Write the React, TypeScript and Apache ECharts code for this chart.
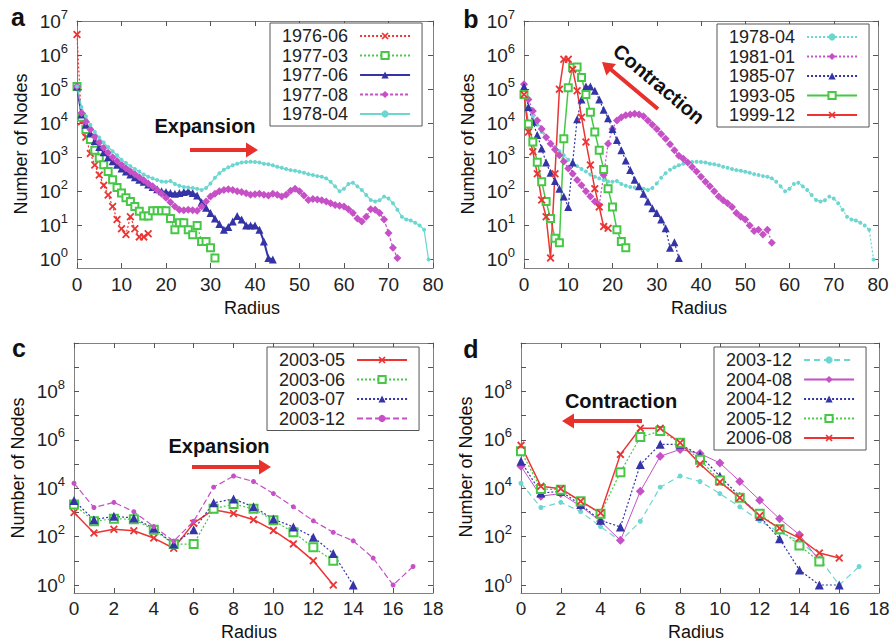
import React, { useEffect, useRef } from 'react';
import * as echarts from 'echarts';

const FONT = '"Liberation Sans", Arial, Helvetica, sans-serif';
const RED = '#ec3434';
const GREEN = '#46c846';
const BLUE = '#3434a6';
const MAG = '#c650c6';
const CYAN = '#6cd6d0';
const TXT = '#222';
const FRAME = '#808080';

// ---- panel a (index = radius) ----
const a1976_06 = [4e6, 1.1e4, 3900, 1300, 590, 300, 150, 78, 36, 15, 8, 5.4, 18, 8, 4.6, 4.6, 5.7];
const a1977_03 = [1.2e5, 1.5e4, 6500, 3300, 1600, 950, 600, 380, 220, 130, 90, 65, 50, 36, 26, 19, 19, 27, 27, 27, 27, 16, 7.5, 12, 12, 7.5, 5.3, 10, 3.4, 3.4, 2.2, 1.1];
const a1977_06 = [1.2e5, 1.8e4, 9000, 5000, 3000, 2000, 1400, 1000, 760, 600, 470, 380, 310, 260, 220, 190, 160, 135, 115, 100, 95, 90, 85, 90, 95, 100, 90, 75, 48, 33, 23, 16, 11, 7.5, 9, 13, 19, 15, 10, 10, 10, 7.5, 3.4, 1.1, 1];
const a1977_08 = [1.2e5, 2e4, 1.1e4, 6500, 4000, 2700, 1900, 1350, 1000, 780, 600, 480, 390, 320, 260, 210, 170, 140, 110, 85, 65, 48, 36, 29, 28, 29, 28, 27, 36, 50, 70, 85, 100, 110, 115, 110, 100, 95, 88, 80, 82, 85, 80, 75, 85, 80, 70, 80, 104, 120, 100, 75, 56, 60, 58, 55, 50, 45, 40, 38, 36, 30, 23, 16, 13, 18, 30, 29, 23, 15, 6, 2.2, 1.1];
const s1978_04 = [1.2e5, 3e4, 1.6e4, 9000, 5500, 3800, 2700, 2000, 1500, 1150, 850, 680, 550, 450, 380, 310, 270, 240, 215, 195, 190, 200, 165, 145, 135, 130, 125, 120, 110, 125, 170, 250, 340, 430, 510, 580, 650, 700, 730, 740, 730, 700, 650, 620, 580, 525, 490, 450, 420, 400, 375, 350, 320, 300, 280, 270, 240, 190, 140, 100, 120, 165, 180, 140, 110, 78, 56, 50, 55, 70, 62, 45, 29, 18, 15, 14, 12, 10, 7.5, 1];

// ---- panel b ----
const b1981_01 = [1.4e5, 5e4, 2.3e4, 1.2e4, 6800, 3900, 2500, 1700, 1150, 750, 470, 330, 215, 150, 100, 70, 50, 40, 300, 2500, 6800, 1.2e4, 1.5e4, 1.7e4, 1.8e4, 1.9e4, 1.8e4, 1.6e4, 1.2e4, 9000, 6800, 4800, 3500, 2400, 1600, 1100, 900, 700, 520, 380, 270, 190, 140, 100, 70, 55, 45, 35, 23, 18, 15, 10, 6.8, 7.5, 5.4, 7.5, 3.1];
const b1985_07 = [1.2e5, 3e4, 1.1e4, 4500, 1800, 700, 350, 200, 120, 70, 35, 700, 1.3e4, 5e4, 1.2e5, 1.2e5, 9e4, 5e4, 2.5e4, 1.4e4, 6800, 3200, 1600, 800, 420, 220, 140, 85, 50, 32, 23, 15, 8.3, 2.2, 3.2, 1.1];
const b1993_05 = [7e4, 9500, 2800, 720, 190, 50, 16, 4.2, 3.1, 3500, 1.1e5, 4.3e5, 4.5e5, 2.2e5, 7e4, 2.1e4, 5500, 1600, 440, 120, 35, 7.5, 3.4, 2.2];
const b1999_12 = [7e4, 5500, 1450, 330, 56, 18, 1.1, 330, 1e5, 7.5e5, 7.5e5, 3.8e5, 9e4, 1.5e4, 2800, 590, 120, 35, 9.3, 8.3];

// ---- panel c ----
const c2003_05 = [1000, 140, 200, 175, 87, 33, 360, 1300, 900, 500, 180, 50, 10, 1];
const c2003_06 = [2100, 430, 550, 520, 190, 49, 49, 1400, 2200, 1400, 470, 150, 36, 10];
const c2003_07 = [3100, 500, 690, 590, 220, 50, 190, 2500, 3600, 1700, 530, 250, 95, 20, 1];
const s2003_12 = [1.6e4, 1600, 2600, 1070, 260, 65, 430, 1.1e4, 3.2e4, 1.9e4, 6000, 1700, 450, 150, 67, 13, 1, 5.8];

// ---- panel d ----
const d2004_08 = [8e4, 4700, 6000, 1800, 430, 70, 7500, 2.1e5, 4e5, 2.7e5, 1.1e5, 1.9e4, 3200, 550, 120, 10];
const d2004_12 = [1.3e5, 6300, 7400, 2100, 470, 250, 9.5e4, 6.5e5, 6.5e5, 2.3e5, 3.1e4, 4600, 690, 81, 4.2, 1, 1];
const d2005_12 = [3.4e5, 9300, 8700, 2900, 890, 4.6e4, 1.3e6, 2.3e6, 7.6e5, 1.5e5, 2.1e4, 4000, 890, 200, 43, 9.3];
const d2006_08 = [5.9e5, 1.2e4, 9600, 2900, 940, 2.5e5, 3e6, 3e6, 7.6e5, 1e5, 1.8e4, 4000, 730, 220, 87, 21, 13];

// tick exponents
const expTicksAB = [0, 1, 2, 3, 4, 5, 6, 7];
const expTicksCD = [0, 1, 2, 3, 4, 5, 6, 7, 8, 9, 10];
const expLabelsCD = [0, 2, 4, 6, 8];

const CROSS = 'path://M0,1.6L1.6,0L5,3.4L8.4,0L10,1.6L6.6,5L10,8.4L8.4,10L5,6.6L1.6,10L0,8.4L3.4,5Z';

const panels = [
  { grid: { left: 77, top: 21, width: 356, height: 247 }, xMax: 80, xInt: 10, yMin: -0.25, yMax: 7, ticks: expTicksAB, labels: expTicksAB, xMargin: 7,
    legend: { left: 270, top: 23 } },
  { grid: { left: 524, top: 21, width: 354, height: 247 }, xMax: 80, xInt: 10, yMin: -0.25, yMax: 7, ticks: expTicksAB, labels: expTicksAB, xMargin: 7,
    legend: { left: 717, top: 24 } },
  { grid: { left: 74, top: 343, width: 359, height: 250 }, xMax: 18, xInt: 2, yMin: -0.33, yMax: 10, ticks: expTicksCD, labels: expLabelsCD, xMargin: 6,
    legend: { left: 267, top: 347 } },
  { grid: { left: 521, top: 343, width: 358, height: 250 }, xMax: 18, xInt: 2, yMin: -0.33, yMax: 10, ticks: expTicksCD, labels: expLabelsCD, xMargin: 6,
    legend: { left: 714, top: 347 } },
];

type Def = { p: number; name: string; vals: number[]; color: string; symbol: string; size: number; dash: any; width?: number };

const defs: Def[] = [
  { p: 0, name: '1976-06', vals: a1976_06, color: RED, symbol: CROSS, size: 8, dash: [2, 2] },
  { p: 0, name: '1977-03', vals: a1977_03, color: GREEN, symbol: 'emptyRect', size: 7, dash: [2, 2] },
  { p: 0, name: '1977-06', vals: a1977_06, color: BLUE, symbol: 'triangle', size: 8, dash: 'solid', width: 2 },
  { p: 0, name: '1977-08', vals: a1977_08, color: MAG, symbol: 'diamond', size: 8, dash: [3, 2] },
  { p: 0, name: '1978-04', vals: s1978_04, color: CYAN, symbol: 'circle', size: 4, dash: 'solid' },
  { p: 1, name: '1978-04', vals: s1978_04, color: CYAN, symbol: 'circle', size: 4, dash: [2, 2] },
  { p: 1, name: '1981-01', vals: b1981_01, color: MAG, symbol: 'diamond', size: 8, dash: [2, 2] },
  { p: 1, name: '1985-07', vals: b1985_07, color: BLUE, symbol: 'triangle', size: 8, dash: [2, 2] },
  { p: 1, name: '1993-05', vals: b1993_05, color: GREEN, symbol: 'emptyRect', size: 7, dash: 'solid', width: 1.5 },
  { p: 1, name: '1999-12', vals: b1999_12, color: RED, symbol: CROSS, size: 8, dash: 'solid', width: 1.5 },
  { p: 2, name: '2003-05', vals: c2003_05, color: RED, symbol: CROSS, size: 8, dash: 'solid', width: 1.5 },
  { p: 2, name: '2003-06', vals: c2003_06, color: GREEN, symbol: 'emptyRect', size: 8, dash: [2, 2] },
  { p: 2, name: '2003-07', vals: c2003_07, color: BLUE, symbol: 'triangle', size: 9, dash: [2, 2] },
  { p: 2, name: '2003-12', vals: s2003_12, color: MAG, symbol: 'circle', size: 5, dash: [6, 3] },
  { p: 3, name: '2003-12', vals: s2003_12, color: CYAN, symbol: 'circle', size: 5, dash: [6, 4] },
  { p: 3, name: '2004-08', vals: d2004_08, color: MAG, symbol: 'diamond', size: 9, dash: 'solid', width: 1 },
  { p: 3, name: '2004-12', vals: d2004_12, color: BLUE, symbol: 'triangle', size: 9, dash: [2, 2] },
  { p: 3, name: '2005-12', vals: d2005_12, color: GREEN, symbol: 'emptyRect', size: 8, dash: [2, 2] },
  { p: 3, name: '2006-08', vals: d2006_08, color: RED, symbol: CROSS, size: 8, dash: 'solid', width: 1.5 },
];

function arrow(x1: number, y1: number, x2: number, y2: number, w = 4, hl = 12, hw = 15) {
  const dx = x2 - x1, dy = y2 - y1;
  const L = Math.hypot(dx, dy);
  const ux = dx / L, uy = dy / L;
  const nx = -uy, ny = ux;
  const bx = x2 - ux * hl, by = y2 - uy * hl;
  const pts = [
    [x1 + nx * w / 2, y1 + ny * w / 2],
    [bx + nx * w / 2, by + ny * w / 2],
    [bx + nx * hw / 2, by + ny * hw / 2],
    [x2, y2],
    [bx - nx * hw / 2, by - ny * hw / 2],
    [bx - nx * w / 2, by - ny * w / 2],
    [x1 - nx * w / 2, y1 - ny * w / 2],
  ];
  return { type: 'polygon', silent: true, shape: { points: pts }, style: { fill: '#e8312a' } };
}

function txt(text: string, x: number, y: number, size: number, bold = false, rotation = 0) {
  return {
    type: 'text', x, y, rotation, silent: true,
    style: { text, fill: '#111', fontSize: size, fontFamily: FONT, fontWeight: bold ? 'bold' : 'normal', align: 'center', verticalAlign: 'middle' },
  };
}

function buildOption() {
  const grid = panels.map((p) => ({ ...p.grid, containLabel: false }));
  const xAxis: any[] = [];
  const yAxis: any[] = [];
  panels.forEach((p, gi) => {
    const baseX = {
      type: 'value', gridIndex: gi, min: 0, max: p.xMax, interval: p.xInt,
      axisLine: { show: true, onZero: false, lineStyle: { color: FRAME, width: 1 } },
      axisTick: { show: true, inside: true, length: 5, lineStyle: { color: '#555' } },
      splitLine: { show: false },
    };
    xAxis.push({ ...baseX, position: 'bottom',
      axisLabel: { show: true, fontSize: 19, fontFamily: FONT, color: TXT, margin: p.xMargin } });
    xAxis.push({ ...baseX, position: 'top', axisLabel: { show: false } });
    const baseY = {
      type: 'value', gridIndex: gi, min: p.yMin, max: p.yMax,
      axisLine: { show: true, onZero: false, lineStyle: { color: FRAME, width: 1 } },
      axisTick: { show: true, inside: true, length: 5, customValues: p.ticks, lineStyle: { color: '#555' } },
      splitLine: { show: false },
    };
    yAxis.push({ ...baseY, position: 'left',
      axisLabel: {
        show: true, customValues: p.labels, margin: 9,
        formatter: (v: number) => `{a|10}{b|${Math.round(v)}}`,
        rich: {
          a: { fontSize: 19, fontFamily: FONT, color: TXT },
          b: { fontSize: 13, fontFamily: FONT, color: TXT, padding: [0, 0, 14, 0] },
        },
      } });
    yAxis.push({ ...baseY, position: 'right', axisLabel: { show: false } });
  });

  const series = defs.map((d) => ({
    type: 'line',
    name: `${'abcd'[d.p]}:${d.name}`,
    xAxisIndex: d.p * 2,
    yAxisIndex: d.p * 2,
    data: d.vals.map((v, i) => [i, Math.log10(v)]),
    symbol: d.symbol,
    symbolSize: d.size,
    showSymbol: true,
    clip: false,
    lineStyle: { color: d.color, width: d.width ?? 1.2, type: d.dash },
    itemStyle: { color: d.color, borderColor: d.color, borderWidth: d.symbol === 'emptyRect' ? 1.4 : 0 },
    emphasis: { disabled: true },
    silent: true,
  }));

  const legend = panels.map((p, gi) => ({
    orient: 'vertical', left: p.legend.left, top: p.legend.top, align: 'right',
    data: defs.filter((d) => d.p === gi).map((d) => `${'abcd'[gi]}:${d.name}`),
    itemWidth: 50, itemHeight: 9, itemGap: 1.5,
    padding: [4, 11, 3, 12],
    borderColor: '#555', borderWidth: 1, backgroundColor: '#fff',
    selectedMode: false,
    formatter: (n: string) => n.slice(2),
    textStyle: { fontSize: 18, fontFamily: FONT, color: TXT, padding: [0, 7, 0, 0] },
  }));

  const graphic = [
    txt('a', 18, 17, 25, true),
    txt('b', 471, 19, 25, true),
    txt('c', 19, 348, 25, true),
    txt('d', 471, 349, 25, true),
    txt('Number of Nodes', 20.5, 144, 18, false, Math.PI / 2),
    txt('Number of Nodes', 468, 144, 18, false, Math.PI / 2),
    txt('Number of Nodes', 18, 468, 18, false, Math.PI / 2),
    txt('Number of Nodes', 466, 467, 18, false, Math.PI / 2),
    txt('Radius', 252, 308, 18),
    txt('Radius', 699, 308, 18),
    txt('Radius', 249, 632, 18),
    txt('Radius', 696, 632, 18),
    txt('Expansion', 205, 126, 20, true),
    txt('Contraction', 659, 84, 20, true, -40 * Math.PI / 180),
    txt('Expansion', 219, 446, 20, true),
    txt('Contraction', 621, 401, 20, true),
    arrow(190, 150, 258, 150),
    arrow(658, 109, 602, 62),
    arrow(192, 467, 271, 467),
    arrow(642, 421, 562, 421),
  ];

  return {
    animation: false,
    backgroundColor: '#fff',
    grid, xAxis, yAxis, series, legend, graphic,
  };
}

export default function App() {
  const ref = useRef<HTMLDivElement>(null);
  useEffect(() => {
    const chart = echarts.init(ref.current!, undefined, { renderer: 'svg' });
    chart.setOption(buildOption() as any);
    return () => chart.dispose();
  }, []);
  return (
    <div
      ref={ref}
      style={{ position: 'absolute', left: 0, top: 0, width: 893, height: 644, background: '#fff' }}
    />
  );
}
